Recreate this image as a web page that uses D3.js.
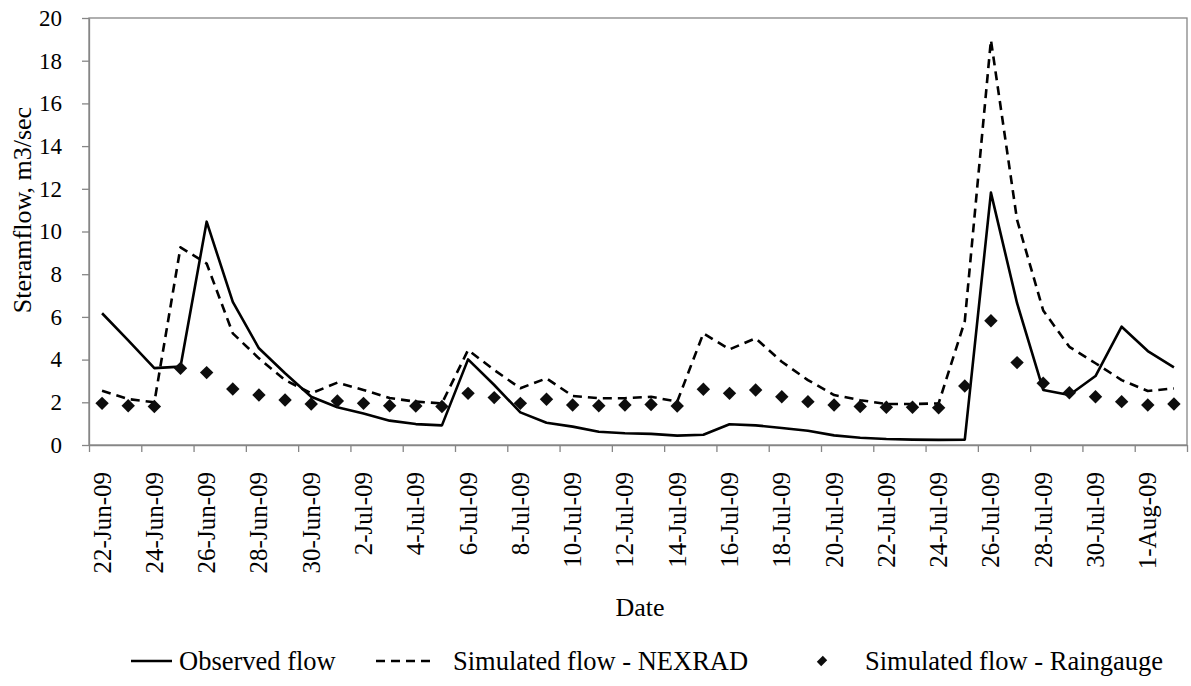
<!DOCTYPE html>
<html>
<head>
<meta charset="utf-8">
<script src="https://cdn.jsdelivr.net/npm/d3@7"></script>
<style>
  html, body { margin: 0; padding: 0; background: #fff; }
  svg { display: block; }
</style>
</head>
<body>
<svg id="chart" width="1191" height="686"></svg>
<script>
const categories = [
  "22-Jun-09","23-Jun-09","24-Jun-09","25-Jun-09","26-Jun-09","27-Jun-09","28-Jun-09","29-Jun-09","30-Jun-09",
  "1-Jul-09","2-Jul-09","3-Jul-09","4-Jul-09","5-Jul-09","6-Jul-09","7-Jul-09","8-Jul-09","9-Jul-09","10-Jul-09",
  "11-Jul-09","12-Jul-09","13-Jul-09","14-Jul-09","15-Jul-09","16-Jul-09","17-Jul-09","18-Jul-09","19-Jul-09","20-Jul-09",
  "21-Jul-09","22-Jul-09","23-Jul-09","24-Jul-09","25-Jul-09","26-Jul-09","27-Jul-09","28-Jul-09","29-Jul-09","30-Jul-09",
  "31-Jul-09","1-Aug-09","2-Aug-09"
];
const observedFlow = [
  6.17, 4.9, 3.6, 3.67, 10.46, 6.7, 4.53, 3.36, 2.26,
  1.77, 1.48, 1.14, 0.98, 0.92, 4.01, 2.81, 1.53, 1.04, 0.86,
  0.62, 0.55, 0.52, 0.44, 0.48, 0.97, 0.92, 0.8, 0.67, 0.45,
  0.34, 0.28, 0.25, 0.24, 0.25, 11.82, 6.64, 2.58, 2.34, 3.23,
  5.54, 4.4, 3.64
];
const nexradFlow = [
  2.54, 2.15, 2.0, 9.26, 8.5, 5.23, 4.06, 3.04, 2.42,
  2.92, 2.58, 2.2, 2.03, 1.95, 4.45, 3.51, 2.66, 3.12, 2.3,
  2.19, 2.19, 2.26, 2.03, 5.23, 4.48, 5.0, 3.9, 3.04, 2.34,
  2.1, 1.92, 1.92, 1.95, 5.8, 18.97, 10.54, 6.3, 4.6, 3.83,
  3.04, 2.53, 2.65
];
const raingaugeFlow = [
  1.95, 1.84, 1.8, 3.59, 3.39, 2.62, 2.34, 2.11, 1.92,
  2.06, 1.95, 1.84, 1.83, 1.8, 2.42, 2.22, 1.95, 2.14, 1.87,
  1.84, 1.87, 1.9, 1.83, 2.61, 2.42, 2.58, 2.26, 2.03, 1.87,
  1.8, 1.77, 1.77, 1.74, 2.76, 5.82, 3.86, 2.89, 2.45, 2.26,
  2.03, 1.87, 1.92
];
const yTicks = [0, 2, 4, 6, 8, 10, 12, 14, 16, 18, 20];
const yTitle = "Steramflow, m3/sec";
const xTitle = "Date";
const legendLabels = ["Observed flow", "Simulated flow - NEXRAD", "Simulated flow - Raingauge"];

const FONT = "'Liberation Serif', 'Times New Roman', Tinos, 'DejaVu Serif', serif";
const svg = d3.select("#chart");
const L = 89, R = 1187, T = 18, B = 445;
const axisColor = "#868686";

const x = d3.scaleBand().domain(categories).range([L, R]).padding(0);
const xEdge = d3.scaleLinear().domain([0, categories.length]).range([L, R]);
const y = d3.scaleLinear().domain([0, 20]).range([B, T]);
const cx = c => x(c) + x.bandwidth() / 2;

// plot border
svg.append("rect").attr("x", L).attr("y", T).attr("width", R - L).attr("height", B - T)
  .attr("fill", "none").attr("stroke", axisColor).attr("stroke-width", 1.3);

// Y axis
const yAxis = svg.append("g").attr("transform", `translate(${L},0)`)
  .call(d3.axisLeft(y).tickValues(yTicks).tickSize(7).tickPadding(20).tickSizeOuter(0));
yAxis.attr("font-family", null);
yAxis.select(".domain").attr("stroke", axisColor).attr("stroke-width", 1.3);
yAxis.selectAll(".tick line").attr("stroke", axisColor).attr("stroke-width", 1.3);
yAxis.selectAll(".tick text").style("font-family", FONT).style("font-size", "23px").attr("fill", "#000");

// X axis tick marks at category boundaries (every 2)
const edgeTicks = d3.range(0, categories.length + 1, 2);
const xTickAxis = svg.append("g").attr("transform", `translate(0,${B})`)
  .call(d3.axisBottom(xEdge).tickValues(edgeTicks).tickSize(7).tickFormat("").tickSizeOuter(0));
xTickAxis.select(".domain").attr("stroke", axisColor).attr("stroke-width", 1.3);
xTickAxis.selectAll(".tick line").attr("stroke", axisColor).attr("stroke-width", 1.3);

// X labels every 2 categories
const labelCats = categories.filter((d, i) => i % 2 === 0);
const xLabAxis = svg.append("g").attr("transform", `translate(0,${B})`)
  .call(d3.axisBottom(x).tickValues(labelCats).tickSize(0).tickPadding(0));
xLabAxis.attr("font-family", null);
xLabAxis.select(".domain").remove();
xLabAxis.selectAll(".tick text")
  .style("font-family", FONT)
  .style("font-size", "25px")
  .attr("fill", "#000")
  .attr("text-anchor", "end")
  .attr("transform", "rotate(-90)")
  .attr("x", -27)
  .attr("y", 0)
  .attr("dy", "0.34em");

// Titles
svg.append("text").attr("transform", `translate(31,210) rotate(-90)`)
  .attr("text-anchor", "middle").style("font-family", FONT).style("font-size", "26px").text(yTitle);
svg.append("text").attr("x", 640).attr("y", 616)
  .attr("text-anchor", "middle").style("font-family", FONT).style("font-size", "26px").text(xTitle);

// Series
const line = d3.line().x((d, i) => cx(categories[i])).y(d => y(d));
svg.append("path").datum(nexradFlow).attr("d", line)
  .attr("fill", "none").attr("stroke", "#000").attr("stroke-width", 2.6)
  .attr("stroke-dasharray", "9,6").attr("stroke-linejoin", "round");
svg.append("path").datum(observedFlow).attr("d", line)
  .attr("fill", "none").attr("stroke", "#000").attr("stroke-width", 2.6)
  .attr("stroke-linejoin", "round");
svg.append("g").selectAll("path").data(raingaugeFlow).join("path")
  .attr("d", d3.symbol().type(d3.symbolSquare).size(90))
  .attr("transform", (d, i) => `translate(${cx(categories[i])},${y(d)}) rotate(45)`)
  .attr("fill", "#0d0d0d");

// Legend
const ly = 661;
const lg = svg.append("g");
lg.append("line").attr("x1", 131).attr("x2", 172).attr("y1", ly).attr("y2", ly)
  .attr("stroke", "#000").attr("stroke-width", 2.6);
lg.append("text").attr("x", 179).attr("y", ly).attr("dy", "0.33em").style("font-family", FONT).style("font-size", "26.5px").text(legendLabels[0]);
lg.append("line").attr("x1", 376).attr("x2", 432).attr("y1", ly).attr("y2", ly)
  .attr("stroke", "#000").attr("stroke-width", 2.6).attr("stroke-dasharray", "9,6");
lg.append("text").attr("x", 453).attr("y", ly).attr("dy", "0.33em").style("font-family", FONT).style("font-size", "26.5px").text(legendLabels[1]);
lg.append("path").attr("d", d3.symbol().type(d3.symbolSquare).size(60))
  .attr("transform", `translate(822,${ly}) rotate(45) scale(0.8,1.1)`).attr("fill", "#0d0d0d");
lg.append("text").attr("x", 865).attr("y", ly).attr("dy", "0.33em").style("font-family", FONT).style("font-size", "26.5px").text(legendLabels[2]);
</script>
</body>
</html>
